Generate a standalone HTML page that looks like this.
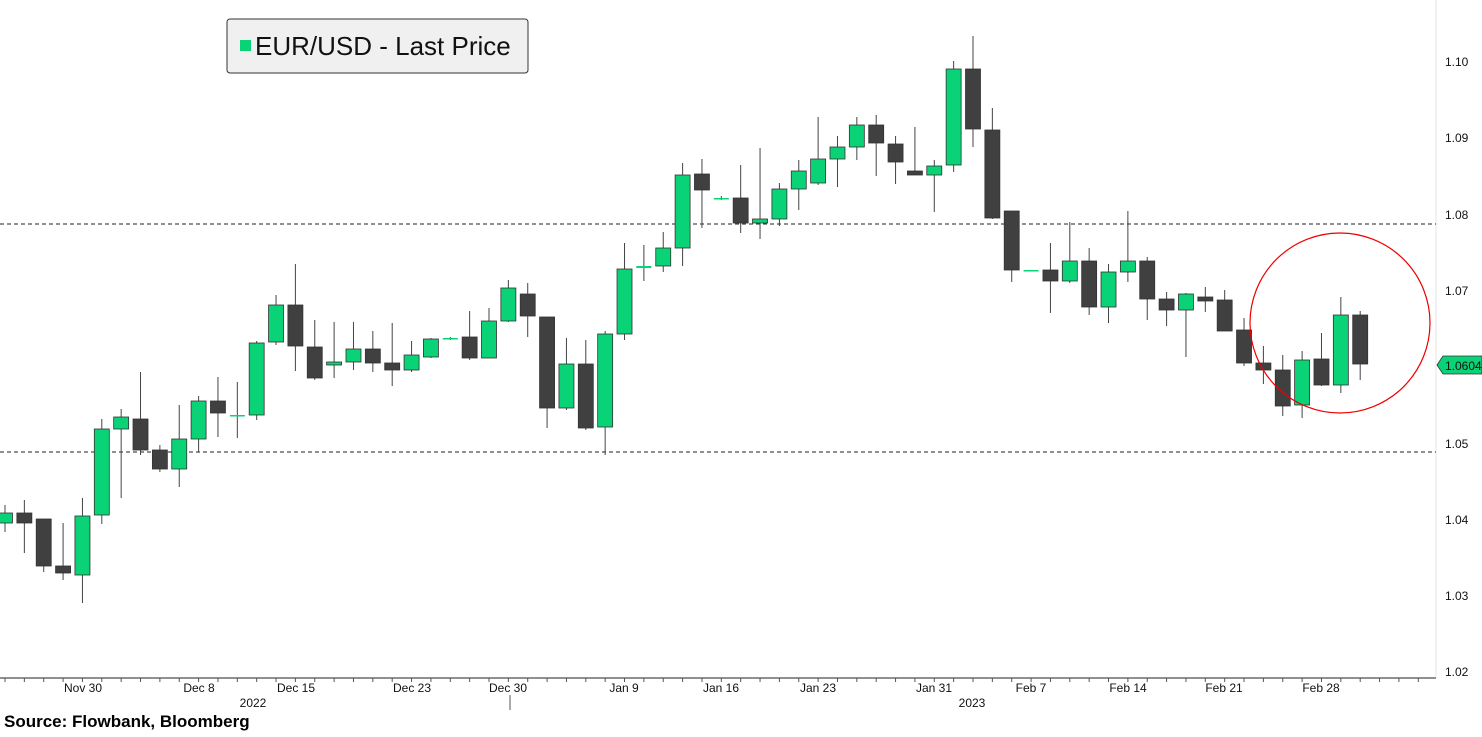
<!DOCTYPE html>
<html><head><meta charset="utf-8"><style>
body{margin:0;background:#fff;width:1482px;height:732px;overflow:hidden;font-family:"Liberation Sans",sans-serif}
</style></head><body>
<svg id="s" width="1482" height="732" xmlns="http://www.w3.org/2000/svg" font-family="Liberation Sans, sans-serif">
<line x1="1436" y1="0" x2="1436" y2="678" stroke="#e6e6e6"/>
<line x1="0" y1="224" x2="1436" y2="224" stroke="#222" stroke-dasharray="4,3"/>
<line x1="0" y1="452" x2="1436" y2="452" stroke="#222" stroke-dasharray="4,3"/>
<line x1="0" y1="678" x2="1436" y2="678" stroke="#222"/>
<g id="c"></g>
<ellipse cx="1340" cy="323" rx="90" ry="90" fill="none" stroke="#e00" stroke-width="1.2"/>
<g font-size="12" fill="#111">
<text x="1445" y="66">1.10</text><text x="1445" y="142">1.09</text><text x="1445" y="219">1.08</text>
<text x="1445" y="295">1.07</text><text x="1445" y="448">1.05</text><text x="1445" y="524">1.04</text>
<text x="1445" y="600">1.03</text><text x="1445" y="676">1.02</text>
</g>
<path d="M1437,365 L1443,356 L1482,356 L1482,374 L1443,374 Z" fill="#0ad276" stroke="#333" stroke-width="0.8"/>
<text x="1445" y="370" font-size="12" fill="#111">1.0604</text>
<g font-size="12" fill="#111" text-anchor="middle">
<text x="83" y="692">Nov 30</text><text x="199" y="692">Dec 8</text><text x="296" y="692">Dec 15</text>
<text x="412" y="692">Dec 23</text><text x="508" y="692">Dec 30</text><text x="624" y="692">Jan 9</text>
<text x="721" y="692">Jan 16</text><text x="818" y="692">Jan 23</text><text x="934" y="692">Jan 31</text>
<text x="1031" y="692">Feb 7</text><text x="1128" y="692">Feb 14</text><text x="1224" y="692">Feb 21</text>
<text x="1321" y="692">Feb 28</text>
<text x="253" y="707">2022</text><text x="972" y="707">2023</text>
</g>
<line x1="510" y1="695" x2="510" y2="710" stroke="#555"/>
<g id="t"></g>
<text x="4" y="727" font-size="17" font-weight="bold" fill="#000">Source: Flowbank, Bloomberg</text>
<rect x="227" y="19" width="301" height="54" rx="3" fill="#f0f0f0" stroke="#333"/>
<rect x="240" y="40" width="11" height="11" fill="#0ad276"/>
<text x="255" y="55" font-size="26" fill="#111">EUR/USD - Last Price</text>
</svg>
<script>
var d=[[1,513,523,505,532],[0,513,523,500,553],[0,519,566,519,572],[0,566,573,523,580],[1,516,575,498,603],[1,429,515,419,524],[1,417,429,409,498],[0,419,450,372,455],[0,450,469,445,472],[1,439,469,405,487],[1,401,439,396,452],[0,401,413,377,437],[1,415,415,382,438],[1,343,415,341,420],[1,305,342,295,345],[0,305,346,264,371],[0,347,378,320,380],[1,362,365,322,378],[1,349,362,322,370],[0,349,363,331,372],[0,363,370,323,386],[1,355,370,341,372],[1,339,357,338,358],[1,338,338,337,340],[0,337,358,311,360],[1,321,358,308,358],[1,288,321,280,322],[0,294,316,283,337],[0,317,408,317,428],[1,364,408,338,410],[0,364,428,340,430],[1,334,427,331,455],[1,269,334,243,340],[1,266,268,245,281],[1,248,266,232,272],[1,175,248,163,266],[0,174,190,159,228],[1,198,198,196,200],[0,198,223,165,233],[1,219,223,148,239],[1,189,219,183,226],[1,171,189,160,210],[1,159,183,117,185],[1,147,159,136,187],[1,125,147,117,160],[0,125,143,115,176],[0,144,162,136,184],[0,171,175,127,175],[1,166,175,160,212],[1,69,165,61,172],[0,69,129,36,147],[0,130,218,108,219],[0,211,270,211,282],[1,270,270,270,271],[0,270,281,243,313],[1,261,281,222,283],[0,261,307,248,315],[1,272,307,264,323],[1,261,272,211,282],[0,261,299,257,320],[0,299,310,292,326],[1,294,310,293,357],[0,297,301,287,312],[0,300,331,290,331],[0,330,363,318,366],[0,363,370,346,384],[0,370,406,355,416],[1,360,405,351,418],[0,359,385,333,386],[1,315,385,297,393],[0,315,364,311,380]];
var s="",t="";
d.forEach(function(c,i){var x=5+19.36*i;var col=c[0]?"#0ad276":"#404040";
s+='<line x1="'+x+'" y1="'+c[3]+'" x2="'+x+'" y2="'+c[4]+'" stroke="#444" stroke-width="1"/>';
var h=Math.max(c[2]-c[1],1.5);
s+='<rect x="'+(x-7.5)+'" y="'+c[1]+'" width="15" height="'+h+'" fill="'+col+'" stroke="'+(c[0]?"#333":"#333")+'" stroke-width="'+(h>2?0.8:0)+'"/>';});
for(var i=0;i<74;i++){var x=5+19.36*i;t+='<line x1="'+x+'" y1="678" x2="'+x+'" y2="682" stroke="#555"/>';}
document.getElementById("c").innerHTML=s;document.getElementById("t").innerHTML=t;
</script>
</body></html>
